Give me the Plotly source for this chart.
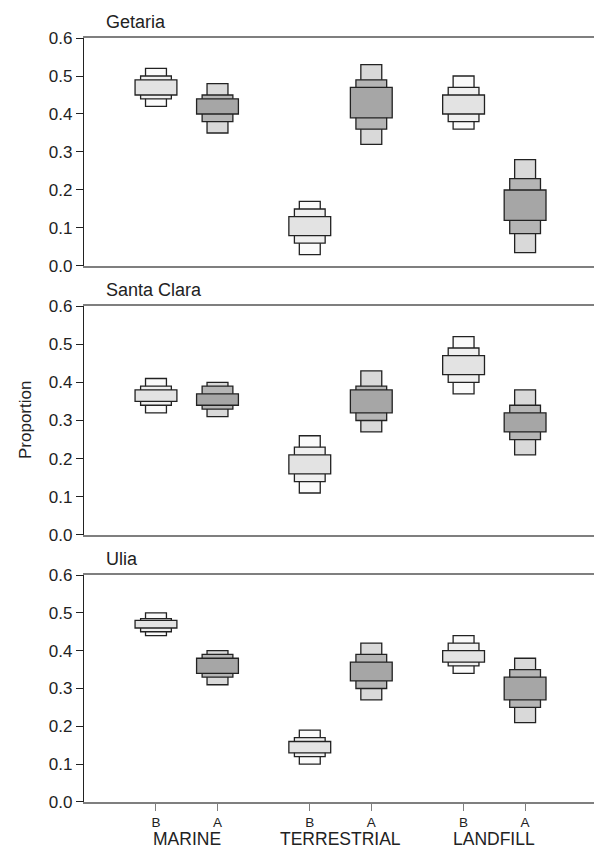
import plotly.graph_objects as go
from plotly.subplots import make_subplots

# Source groups and the two periods (Before / After) for each
groups = ["MARINE", "TERRESTRIAL", "LANDFILL"]
periods = ["B", "A", "B", "A", "B", "A"]
positions = [1, 2, 3.5, 4.5, 6, 7]
sites = ["Getaria", "Santa Clara", "Ulia"]

# Credible intervals of the proportion, one list per site and level
getaria_95_low = [0.42, 0.35, 0.03, 0.32, 0.36, 0.035]
getaria_95_high = [0.52, 0.48, 0.17, 0.53, 0.50, 0.28]
getaria_75_low = [0.44, 0.38, 0.06, 0.36, 0.38, 0.085]
getaria_75_high = [0.50, 0.45, 0.15, 0.49, 0.47, 0.23]
getaria_50_low = [0.45, 0.40, 0.08, 0.39, 0.40, 0.12]
getaria_50_high = [0.49, 0.44, 0.13, 0.47, 0.45, 0.20]

santaclara_95_low = [0.32, 0.31, 0.11, 0.27, 0.37, 0.21]
santaclara_95_high = [0.41, 0.40, 0.26, 0.43, 0.52, 0.38]
santaclara_75_low = [0.34, 0.33, 0.14, 0.30, 0.40, 0.25]
santaclara_75_high = [0.39, 0.39, 0.23, 0.39, 0.49, 0.34]
santaclara_50_low = [0.35, 0.34, 0.16, 0.32, 0.42, 0.27]
santaclara_50_high = [0.38, 0.37, 0.21, 0.38, 0.47, 0.32]

ulia_95_low = [0.44, 0.31, 0.10, 0.27, 0.34, 0.21]
ulia_95_high = [0.50, 0.40, 0.19, 0.42, 0.44, 0.38]
ulia_75_low = [0.45, 0.33, 0.12, 0.30, 0.36, 0.25]
ulia_75_high = [0.485, 0.39, 0.17, 0.39, 0.42, 0.35]
ulia_50_low = [0.46, 0.34, 0.13, 0.32, 0.37, 0.27]
ulia_50_high = [0.48, 0.38, 0.16, 0.37, 0.40, 0.33]

site_intervals = [
    [(getaria_95_low, getaria_95_high), (getaria_75_low, getaria_75_high),
     (getaria_50_low, getaria_50_high)],
    [(santaclara_95_low, santaclara_95_high), (santaclara_75_low, santaclara_75_high),
     (santaclara_50_low, santaclara_50_high)],
    [(ulia_95_low, ulia_95_high), (ulia_75_low, ulia_75_high),
     (ulia_50_low, ulia_50_high)],
]

# Box width (x units) and fill per interval level: 95%, 75%, 50%
level_widths = [0.34, 0.5, 0.68]
fill_b = ["#fafafa", "#efefef", "#e3e3e3"]
fill_a = ["#d9d9d9", "#b5b5b5", "#a6a6a6"]

FONT = "Liberation Sans, Arial, Helvetica, sans-serif"

fig = make_subplots(rows=3, cols=1)

for r, intervals in enumerate(site_intervals, start=1):
    for lvl, (lows, highs) in enumerate(intervals):
        colors = [fill_b[lvl] if p == "B" else fill_a[lvl] for p in periods]
        fig.add_trace(
            go.Bar(
                x=positions,
                base=lows,
                y=[h - l for l, h in zip(lows, highs)],
                width=level_widths[lvl],
                marker=dict(color=colors, line=dict(color="#222", width=1.3)),
                showlegend=False,
                hoverinfo="skip",
            ),
            row=r, col=1,
        )

# Panel placement (paper fractions)
domains = [[0.7016, 1.0], [0.3495, 0.6492], [0.0, 0.2971]]
xrange_ = [-0.17, 8.12]

layout_updates = {}
for i in range(3):
    sfx = "" if i == 0 else str(i + 1)
    last = i == 2
    layout_updates["xaxis" + sfx] = dict(
        range=xrange_,
        showline=True, linecolor="#7f7f7f", linewidth=1.6, mirror=True,
        showgrid=False, zeroline=False,
        tickmode="array", tickvals=positions if last else [],
        ticktext=periods if last else [],
        ticks="outside" if last else "", ticklen=7, tickcolor="#7f7f7f", tickwidth=1.2,
        showticklabels=last,
        tickfont=dict(family=FONT, size=13.5, color="#222"),
    )
    layout_updates["yaxis" + sfx] = dict(
        domain=domains[i],
        range=[0, 0.6],
        tickmode="array", tickvals=[0, 0.1, 0.2, 0.3, 0.4, 0.5, 0.6],
        tickformat=".1f",
        showline=True, linecolor="#222", linewidth=1.2, mirror=False,
        showgrid=False, zeroline=False,
        ticks="outside", ticklen=7, tickcolor="#222", tickwidth=1,
        tickfont=dict(family=FONT, size=17, color="#222"),
    )

fig.update_layout(
    width=595, height=848,
    margin=dict(l=84, r=1, t=38, b=46),
    plot_bgcolor="white", paper_bgcolor="white",
    barmode="overlay",
    font=dict(family=FONT, color="#222"),
    **layout_updates,
)

annotations = []
# Site names above each panel
for i, name in enumerate(sites):
    annotations.append(dict(
        text=name, xref="paper", yref="paper",
        x=(104 - 84) / 510, y=domains[i][1],
        xanchor="left", yanchor="bottom", yshift=4,
        showarrow=False, font=dict(family=FONT, size=18, color="#222"),
    ))

# Group names under the bottom axis
for g, gname in enumerate(groups):
    annotations.append(dict(
        text=gname, xref="x3", yref="paper",
        x=(positions[2 * g] + positions[2 * g + 1]) / 2, y=0,
        xanchor="center", yanchor="top", yshift=-25,
        showarrow=False, font=dict(family=FONT, size=17.5, color="#222"),
    ))

# Shared y title
annotations.append(dict(
    text="Proportion", xref="paper", yref="paper",
    x=(25 - 84) / 510, y=(802 - 420) / 764,
    xanchor="center", yanchor="middle", textangle=-90,
    showarrow=False, font=dict(family=FONT, size=17, color="#222"),
))

fig.update_layout(annotations=annotations)

fig.write_html("out.html")
